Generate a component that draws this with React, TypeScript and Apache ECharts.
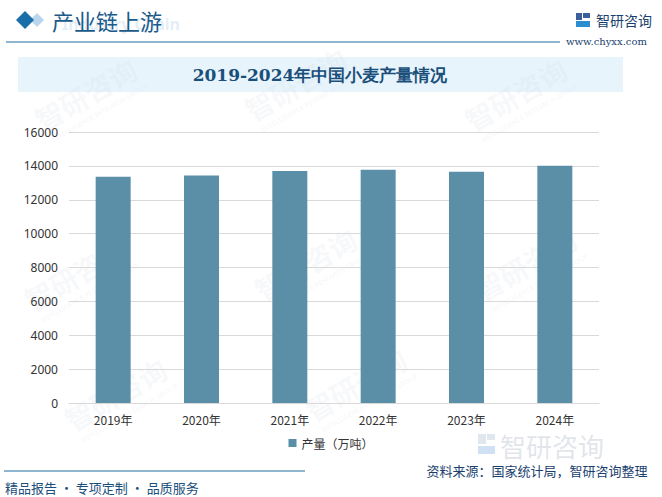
import React, { useEffect, useRef } from "react";
import * as echarts from "echarts";

const categories = ["2019年", "2020年", "2021年", "2022年", "2023年", "2024年"];
const production = [13359, 13425, 13695, 13772, 13659, 14010];
const seriesName = "产量（万吨）";
const titleText = "2019-2024年中国小麦产量情况";
const headerText = "产业链上游";
const sourceText = "资料来源：国家统计局，智研咨询整理";
const sloganText = "精品报告 · 专项定制 · 品质服务";

const wm = (x: number, y: number) => ({
  type: "group",
  x,
  y,
  rotation: Math.PI / 6,
  silent: true,
  children: [
    { type: "text", x: 0, y: 0, style: { text: "智研咨询", font: "bold 28px 'Noto Sans CJK SC'", fill: "rgba(205,214,225,0.16)" } },
    { type: "text", x: 4, y: 34, style: { text: "INTELLIGENCE RESEARCH GROUP", font: "7px 'Noto Sans'", fill: "rgba(205,214,225,0.22)" } },
  ],
});

export default function App() {
  const ref = useRef<HTMLDivElement>(null);
  useEffect(() => {
    if (!ref.current) return;
    const chart = echarts.init(ref.current, undefined, { renderer: "svg" });
    chart.setOption({
      animation: false,
      backgroundColor: "#ffffff",
      grid: { left: 69, right: 63, top: 132, bottom: 94, containLabel: false },
      xAxis: {
        type: "category",
        data: categories,
        axisLine: { lineStyle: { color: "#d9d9d9" } },
        axisTick: { show: false },
        axisLabel: { color: "#333", fontSize: 12, margin: 10, fontFamily: "'Noto Sans CJK SC', sans-serif" },
      },
      yAxis: {
        type: "value",
        min: 0,
        max: 16000,
        interval: 2000,
        axisLine: { show: false },
        axisTick: { show: false },
        axisLabel: { color: "#333", fontSize: 12, margin: 11, fontFamily: "'Noto Sans', sans-serif", formatter: (v: number) => String(v) },
        splitLine: { lineStyle: { color: "#d9d9d9" } },
      },
      legend: {
        data: [seriesName],
        bottom: 43,
        left: "center",
        itemWidth: 8,
        itemHeight: 8,
        icon: "rect",
        itemGap: 4,
        textStyle: { color: "#333", fontSize: 12, fontFamily: "'Noto Sans CJK SC', sans-serif" },
      },
      series: [
        {
          name: seriesName,
          type: "bar",
          data: production,
          barWidth: 35,
          itemStyle: { color: "#5b8fa8" },
        },
      ],
      graphic: [
        wm(30, 110), wm(240, 100), wm(460, 110),
        wm(20, 290), wm(250, 280), wm(470, 280),
        wm(60, 410), wm(300, 400),
        { type: "rect", shape: { x: 18, y: 57, width: 605, height: 35 }, style: { fill: "#e8f4fc" }, z: -1 },
        {
          type: "text", x: 320, y: 75,
          style: { text: titleText, font: "bold 17px 'DejaVu Serif', serif", fill: "#1a4f7a", textAlign: "center", textVerticalAlign: "middle" },
        },
        { type: "polygon", shape: { points: [[16, 20], [25, 11], [34, 20], [25, 29]] }, style: { fill: "#1a6fa8" } },
        { type: "polygon", shape: { points: [[30, 20], [37, 13], [44, 20], [37, 27]] }, style: { fill: "#b9d6ee" }, z: -1 },
        {
          type: "text", x: 62, y: 24,
          style: { text: "Industry Chain", font: "bold 16px 'Noto Sans'", fill: "rgba(160,195,225,0.3)", textVerticalAlign: "middle" },
        },
        {
          type: "text", x: 52, y: 20,
          style: { text: headerText, font: "22px 'Noto Sans CJK SC'", fill: "#1a5a8a", textVerticalAlign: "middle" },
        },
        { type: "line", shape: { x1: 6, y1: 42, x2: 560, y2: 42 }, style: { stroke: "#1e6fa0", lineWidth: 1.2 } },
        { type: "rect", shape: { x: 576, y: 13, width: 6, height: 7 }, style: { fill: "#3a5f9a" } },
        { type: "rect", shape: { x: 583, y: 13, width: 7, height: 5 }, style: { fill: "#3a5f9a" } },
        { type: "rect", shape: { x: 576, y: 21, width: 14, height: 6 }, style: { fill: "#2a8ed0" } },
        {
          type: "text", x: 596, y: 20,
          style: { text: "智研咨询", font: "14px 'Noto Sans CJK SC'", fill: "#1a3f6f", textVerticalAlign: "middle" },
        },
        {
          type: "text", x: 566, y: 41,
          style: { text: "www.chyxx.com", font: "10px 'DejaVu Serif', serif", fill: "#1a3f6f", textVerticalAlign: "middle" },
        },
        { type: "rect", shape: { x: 478, y: 434, width: 8, height: 10 }, style: { fill: "rgba(170,185,205,0.35)" } },
        { type: "rect", shape: { x: 487, y: 434, width: 8, height: 6 }, style: { fill: "rgba(170,185,205,0.35)" } },
        { type: "rect", shape: { x: 478, y: 446, width: 17, height: 8 }, style: { fill: "rgba(120,170,220,0.35)" } },
        {
          type: "text", x: 500, y: 445,
          style: { text: "智研咨询", font: "26px 'Noto Sans CJK SC'", fill: "rgba(170,180,195,0.35)", textVerticalAlign: "middle" },
        },
        { type: "line", shape: { x1: 4, y1: 471, x2: 305, y2: 471 }, style: { stroke: "#1e6fa0", lineWidth: 1 } },
        {
          type: "text", x: 5, y: 487,
          style: { text: sloganText, font: "13px 'Noto Sans CJK SC'", fill: "#1a4f7a", textVerticalAlign: "middle" },
        },
        {
          type: "text", x: 537, y: 470,
          style: { text: sourceText, font: "13px 'Noto Sans CJK SC'", fill: "#1a3f6f", textAlign: "center", textVerticalAlign: "middle" },
        },
      ],
    });
    return () => chart.dispose();
  }, []);
  return <div ref={ref} style={{ width: 662, height: 497, position: "absolute", left: 0, top: 0 }} />;
}
